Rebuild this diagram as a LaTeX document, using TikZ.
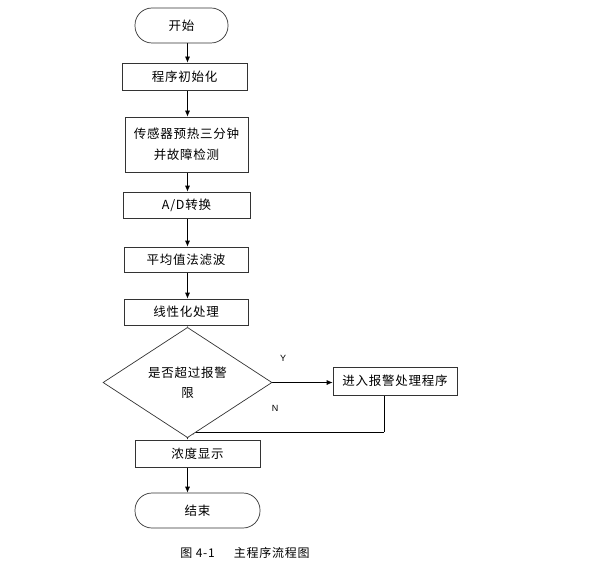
\documentclass[tikz,border=0pt]{standalone}
\usepackage{fontspec}
\setmainfont[LetterSpace=6]{Noto Sans CJK SC}
\newfontfamily\latinfont{Liberation Sans}
\usepackage{tikz}
\usetikzlibrary{shapes.geometric,arrows.meta}
\pgfdeclarelayer{edgelayer}
\pgfdeclarelayer{nodelayer}
\pgfsetlayers{edgelayer,nodelayer,main}
\tikzstyle{none} = []
\tikzstyle{terminal} = [draw=black!80, line width=0.7pt, fill=white, rounded corners=17pt, inner sep=0pt, font=\fontsize{12.5}{20}\selectfont]
\tikzstyle{process} = [draw=black!80, line width=0.7pt, fill=white, inner sep=0pt, align=center, font=\fontsize{12.5}{21}\selectfont]
\tikzstyle{decision} = [draw=black!80, line width=0.7pt, fill=white, diamond, inner sep=0pt, align=center, font=\fontsize{12.5}{20}\selectfont]
\tikzstyle{flow} = [line width=0.7pt, -{Latex[length=6pt,width=5pt]}]
\tikzstyle{line} = [line width=0.7pt]

\begin{document}
\begin{tikzpicture}[x=1pt, y=-1pt]
	\useasboundingbox (0, 0) rectangle (593, 564);
	\begin{pgfonlayer}{nodelayer}
		\node [style=terminal, minimum width=93pt, minimum height=35pt] (0) at (181.5, 25.5) {开始};
		\node [style=process, minimum width=125pt, minimum height=27pt] (1) at (184.5, 76.5) {程序初始化};
		\node [style=process, minimum width=123pt, minimum height=55pt] (2) at (186.5, 144.5) {传感器预热三分钟\\并故障检测};
		\node [style=process, minimum width=127pt, minimum height=26pt] (3) at (186.5, 205) {A/D转换};
		\node [style=process, minimum width=124pt, minimum height=25pt] (4) at (186, 259.5) {平均值法滤波};
		\node [style=process, minimum width=124pt, minimum height=26pt] (5) at (186, 312) {线性化处理};
		\node [style=decision, minimum width=169pt, minimum height=79pt] (6) at (187.5, 382.5) {是否超过报警\\限};
		\node [style=process, minimum width=124pt, minimum height=28pt] (7) at (395, 381) {进入报警处理程序};
		\node [style=process, minimum width=125pt, minimum height=27pt] (8) at (197.5, 453.5) {浓度显示};
		\node [style=terminal, minimum width=125pt, minimum height=35pt] (9) at (197.5, 510.5) {结束};
		\node [style=none, font=\latinfont\fontsize{9}{11}\selectfont] (10) at (283, 358) {Y};
		\node [style=none, font=\latinfont\fontsize{9}{11}\selectfont] (11) at (275, 408) {N};
		\node [style=none, font=\fontsize{12}{14}\selectfont] (12) at (245, 553) {图 4-1\hspace{1.6em}主程序流程图};
		\coordinate (13) at (384, 432);
		\coordinate (14) at (187.5, 432);
	\end{pgfonlayer}
	\begin{pgfonlayer}{edgelayer}
		\draw [style=flow] (0.south -| 6) to (1.north -| 6);
		\draw [style=flow] (1.south -| 6) to (2.north -| 6);
		\draw [style=flow] (2.south -| 6) to (3.north -| 6);
		\draw [style=flow] (3.south -| 6) to (4.north -| 6);
		\draw [style=flow] (4.south -| 6) to (5.north -| 6);
		\draw [style=flow] (5.south -| 6) to (6.north);
		\draw [style=flow] (6.east) to (6.east -| 7.west);
		\draw [style=flow] (6.south) to (8.north -| 6);
		\draw [style=line] (7.south -| 13) to (13.center);
		\draw [style=flow] (13.center) to (14.center);
		\draw [style=flow] (8.south -| 6) to (9.north -| 6);
	\end{pgfonlayer}
\end{tikzpicture}
\end{document}
